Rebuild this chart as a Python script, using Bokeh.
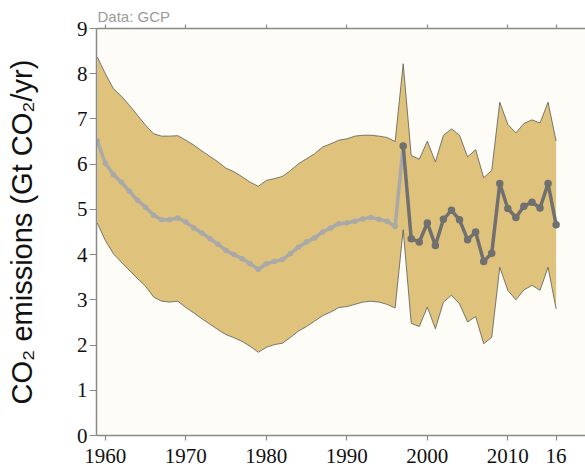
from bokeh.plotting import figure
from bokeh.models import Range1d, LinearAxis, FixedTicker, ColumnDataSource
from bokeh.embed import file_html
from bokeh.resources import INLINE

years = list(range(1959, 2017))
central = [6.51, 6.02, 5.77, 5.60, 5.40, 5.20, 5.05, 4.87, 4.77, 4.77,
           4.81, 4.72, 4.59, 4.48, 4.35, 4.23, 4.09, 4.00, 3.91, 3.80,
           3.67, 3.80, 3.85, 3.89, 4.02, 4.17, 4.28, 4.37, 4.50, 4.59,
           4.68, 4.70, 4.74, 4.79, 4.82, 4.78, 4.74, 4.62, 6.40, 4.35,
           4.28, 4.70, 4.20, 4.78, 4.98, 4.77, 4.33, 4.50, 3.85, 4.03,
           5.57, 5.02, 4.82, 5.07, 5.16, 5.03, 5.57, 4.66]
upper = [8.37, 8.00, 7.67, 7.50, 7.30, 7.08, 6.86, 6.67, 6.62, 6.62,
         6.63, 6.53, 6.42, 6.29, 6.17, 6.05, 5.91, 5.83, 5.72, 5.60,
         5.51, 5.64, 5.68, 5.73, 5.86, 6.01, 6.12, 6.23, 6.38, 6.45,
         6.53, 6.56, 6.62, 6.64, 6.64, 6.62, 6.59, 6.50, 8.22, 6.19,
         6.11, 6.51, 6.05, 6.64, 6.78, 6.64, 6.16, 6.32, 5.70, 5.86,
         7.37, 6.88, 6.69, 6.90, 6.98, 6.91, 7.37, 6.51]
lower = [4.70, 4.31, 4.02, 3.83, 3.65, 3.47, 3.30, 3.06, 2.97, 2.95,
         2.97, 2.83, 2.71, 2.58, 2.46, 2.34, 2.23, 2.16, 2.08, 1.97,
         1.84, 1.95, 2.01, 2.04, 2.17, 2.31, 2.41, 2.53, 2.65, 2.73,
         2.83, 2.85, 2.90, 2.95, 2.97, 2.95, 2.90, 2.82, 4.55, 2.48,
         2.41, 2.84, 2.36, 2.95, 3.10, 2.91, 2.51, 2.63, 2.03, 2.17,
         3.72, 3.21, 3.00, 3.22, 3.32, 3.21, 3.72, 2.80]
split_year = 1997
x_ticks = [1960, 1970, 1980, 1990, 2000, 2010, 2016]
x_tick_labels = {2016: "16"}
y_ticks = list(range(0, 10))

FILL = "#dfc27b"
BG = "#fdfcf6"
AXIS = "#8a8a8a"
LIGHT = "#a9a9a9"
DARK = "#707070"
FONT = "Liberation Sans"
TICKFONT = "Liberation Sans Narrow"

p = figure(width=585, height=468, output_backend="svg", toolbar_location=None,
           x_range=Range1d(1958.9, 2019.65), y_range=Range1d(0, 9),
           min_border_left=96, min_border_right=0, min_border_top=28,
           min_border_bottom=33, x_axis_location=None, y_axis_location=None,
           title="Data: GCP")
p.title.text_font = FONT
p.title.text_font_size = "15px"
p.title.text_font_style = "normal"
p.title.text_color = "#9a9a9a"
p.title.align = "left"
p.title.offset = 1
p.title.standoff = 0
p.background_fill_color = BG
p.border_fill_color = "white"
p.outline_line_color = None
p.xgrid.visible = False
p.ygrid.visible = False

src = ColumnDataSource(dict(x=years, c=central, u=upper, l=lower))
p.varea(x="x", y1="l", y2="u", source=src, fill_color=FILL)
p.line(x="x", y="u", source=src, line_color="#5a5a5a", line_width=0.8)
p.line(x="x", y="l", source=src, line_color="#5a5a5a", line_width=0.8)

i = years.index(split_year)
p.line(years[:i + 1], central[:i + 1], line_color=LIGHT, line_width=3.5)
p.scatter(years[:i], central[:i], size=5.5, fill_color=LIGHT, line_color=None)
p.line(years[i:], central[i:], line_color=DARK, line_width=3.5)
p.scatter(years[i:], central[i:], size=7.5, fill_color=DARK, line_color=None)

def style(ax):
    ax.axis_line_color = AXIS
    ax.axis_line_width = 1.5
    ax.major_tick_line_color = AXIS
    ax.major_tick_line_width = 1.2
    ax.minor_tick_line_color = None
    ax.major_tick_in = 0
    ax.major_label_text_font = TICKFONT
    ax.major_label_text_color = "#111111"

yax = LinearAxis(ticker=FixedTicker(ticks=y_ticks))
style(yax)
yax.major_tick_out = 7
yax.major_label_standoff = 2
yax.major_label_text_font_size = "21px"
yax.axis_label = "CO\u2082 emissions (Gt CO\u2082/yr)"
yax.axis_label_text_font = FONT
yax.axis_label_text_font_size = "29px"
yax.axis_label_text_font_style = "normal"
yax.axis_label_text_color = "#111111"
yax.axis_label_standoff = 36
p.add_layout(yax, "left")

xax = LinearAxis(ticker=FixedTicker(ticks=x_ticks))
style(xax)
xax.major_label_overrides = x_tick_labels
xax.major_tick_out = 5
xax.major_label_standoff = 8
xax.major_label_text_font_size = "21px"
p.add_layout(xax, "below")

tax = LinearAxis(ticker=FixedTicker(ticks=x_ticks))
style(tax)
tax.major_tick_out = 4
tax.major_label_overrides = {t: "" for t in x_ticks}
tax.major_label_text_font_size = "1px"
tax.major_label_standoff = 0
p.add_layout(tax, "above")

open("out.html", "w").write(file_html(p, INLINE))
